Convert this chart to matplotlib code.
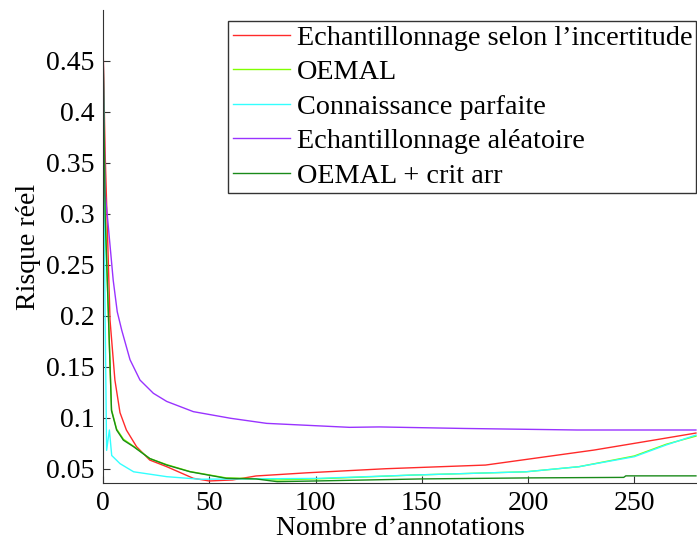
import matplotlib
matplotlib.use('Agg')
import matplotlib.pyplot as plt

plt.rcParams['font.family'] = ['Liberation Serif', 'DejaVu Serif']
plt.rcParams['font.size'] = 20

# risque réel en fonction du nombre d'annotations
x_incert = [0, 1, 3.3, 5.6, 8, 11, 15.8, 22, 30, 42.5, 50, 61, 72, 96, 133, 180, 231, 259, 279]
y_incert = [0.47, 0.36, 0.196, 0.137, 0.105, 0.088, 0.0716, 0.0585, 0.052, 0.0406, 0.038, 0.039, 0.0429, 0.046, 0.050, 0.0536, 0.0683, 0.078, 0.085]

x_oemal = [0, 1, 4, 6.4, 9.6, 14.4, 22, 30, 41, 58, 72, 82, 100, 146, 199, 224, 250, 265, 279]
y_oemal = [0.47, 0.30, 0.108, 0.089, 0.079, 0.072, 0.060, 0.054, 0.0472, 0.041, 0.0402, 0.039, 0.040, 0.0438, 0.047, 0.052, 0.0625, 0.074, 0.082]

x_parfait = [0, 1, 1.7, 3, 4.1, 8, 14.4, 30, 45.6, 100, 146, 199, 224, 250, 265, 279]
y_parfait = [0.47, 0.20, 0.068, 0.088, 0.063, 0.055, 0.047, 0.0422, 0.0397, 0.0405, 0.0438, 0.047, 0.052, 0.0618, 0.0733, 0.083]

x_alea = [0, 1, 2, 4.8, 6.7, 8.8, 12.7, 17.4, 23.7, 30, 42.5, 60, 77, 116, 130, 170, 223, 279]
y_alea = [0.47, 0.32, 0.299, 0.235, 0.204, 0.186, 0.157, 0.137, 0.124, 0.116, 0.106, 0.0995, 0.0945, 0.0906, 0.091, 0.0895, 0.088, 0.088]

x_crit = [0, 1, 4, 6.4, 9.6, 14.4, 22, 30, 41, 58, 72, 82, 100, 150, 200, 245, 246, 279]
y_crit = [0.47, 0.30, 0.107, 0.088, 0.078, 0.0716, 0.060, 0.0536, 0.047, 0.0406, 0.040, 0.0373, 0.038, 0.040, 0.041, 0.0415, 0.043, 0.043]

noms = ['Echantillonnage selon l\u2019incertitude', 'OEMAL', 'Connaissance parfaite',
        'Echantillonnage al\u00e9atoire', 'OEMAL + crit arr']

fig = plt.figure(figsize=(6.97, 5.45), dpi=100)
ax = fig.add_axes([103 / 697, 62 / 545, 1 - 103 / 697, 473 / 545])

ax.plot(x_incert, y_incert, color='#ff2a2a', lw=1, label=noms[0])
ax.plot(x_oemal, y_oemal, color='#80ff00', lw=1, label=noms[1])
ax.plot(x_parfait, y_parfait, color='#33ffff', lw=1, label=noms[2])
ax.plot(x_alea, y_alea, color='#9933ff', lw=1, label=noms[3])
ax.plot(x_crit, y_crit, color='#1a8a1a', lw=1, label=noms[4])

ax.set_xlim(0, 279.5)
ax.set_ylim(0.036, 0.5)
ax.set_xticks([0, 50, 100, 150, 200, 250])
ax.set_yticks([0.05, 0.1, 0.15, 0.2, 0.25, 0.3, 0.35, 0.4, 0.45])
ax.set_yticklabels(['0.05', '0.1', '0.15', '0.2', '0.25', '0.3', '0.35', '0.4', '0.45'])
ax.tick_params(direction='in', length=5, width=0.8, color='#333333', pad=6)
for s in ['top', 'right']:
    ax.spines[s].set_visible(False)
for s in ['left', 'bottom']:
    ax.spines[s].set_color('#333333')
    ax.spines[s].set_linewidth(0.8)

ax.set_xlabel('Nombre d\u2019annotations', labelpad=0)
ax.set_ylabel('Risque r\u00e9el', labelpad=4)

leg = ax.legend(loc='upper right', bbox_to_anchor=(0.999, 0.977), frameon=True, fancybox=False,
                edgecolor='black', handlelength=2.05, handletextpad=0.22, borderpad=0.15,
                labelspacing=0.31, borderaxespad=0, prop={'size': 20.3})
leg.get_frame().set_linewidth(1.0)

fig.savefig('out.png', dpi=100)
